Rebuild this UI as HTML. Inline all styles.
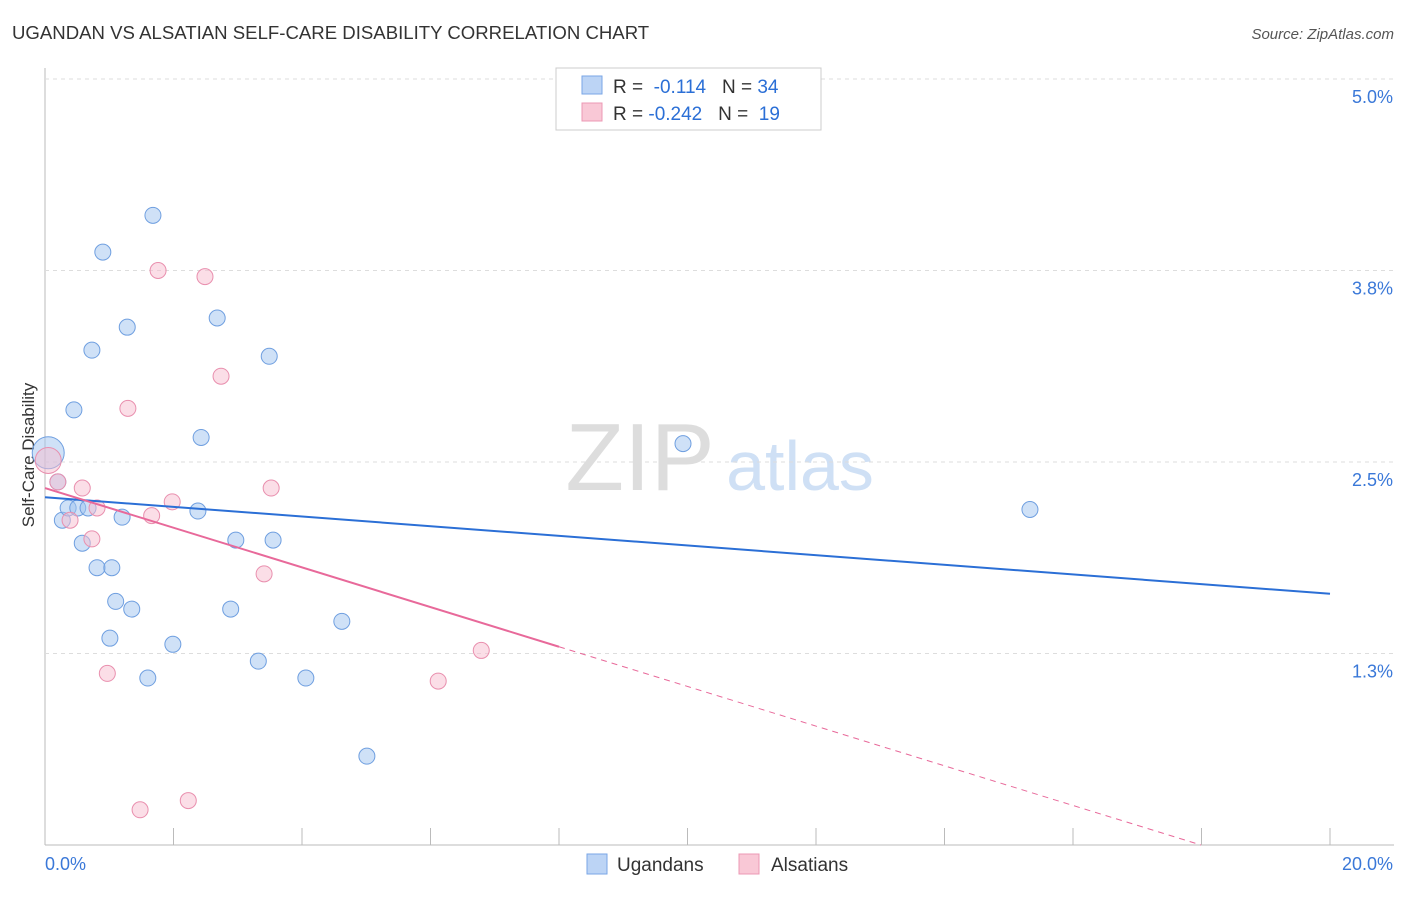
<!DOCTYPE html>
<html><head><meta charset="utf-8"><style>
body{margin:0;background:#fff;font-family:"Liberation Sans",sans-serif}
svg text{font-family:"Liberation Sans",sans-serif}
</style></head><body>
<svg id="chart" width="1406" height="892">
<text x="12" y="39" font-size="18.6" fill="#333">UGANDAN VS ALSATIAN SELF-CARE DISABILITY CORRELATION CHART</text>
<text x="1394" y="39" font-size="15" fill="#555" font-style="italic" text-anchor="end">Source: ZipAtlas.com</text>
<text x="640" y="490" font-size="96" fill="#ddd" font-family="Liberation Serif" text-anchor="middle">ZIP</text>
<text x="800" y="490" font-size="70" fill="#cfe0f5" text-anchor="middle">atlas</text>
<text transform="translate(34,455) rotate(-90)" font-size="17" fill="#333" text-anchor="middle">Self-Care Disability</text>
<g id="axes"></g><g id="marks"></g>
<g>
<rect x="556" y="68" width="265" height="62" fill="#fff" stroke="#ccc"/>
<rect x="582" y="76" width="20" height="18" fill="#bcd4f5" stroke="#7aa6e6"/>
<rect x="582" y="103" width="20" height="18" fill="#f9c8d6" stroke="#ec98b4"/>
<text x="613" y="93" font-size="19" fill="#333">R = <tspan fill="#2b6fd6">&#160;-0.114</tspan>&#160;&#160;&#160;N = <tspan fill="#2b6fd6">34</tspan></text>
<text x="613" y="120" font-size="19" fill="#333">R = <tspan fill="#2b6fd6">-0.242</tspan>&#160;&#160;&#160;N = <tspan fill="#2b6fd6">&#160;19</tspan></text>
</g>
<g>
<rect x="587" y="854" width="20" height="20" fill="#bcd4f5" stroke="#7aa6e6"/>
<text x="617" y="871" font-size="19" fill="#333">Ugandans</text>
<rect x="739" y="854" width="20" height="20" fill="#f9c8d6" stroke="#ec98b4"/>
<text x="771" y="871" font-size="19" fill="#333">Alsatians</text>
</g>
</svg>
<script>
const yTicks=[1.25,2.5,3.75,5.0];
const yTickLabels=["1.3%","2.5%","3.8%","5.0%"];
const xTickLabels=["0.0%","20.0%"];
const ugX=[0.05,0.2,0.27,0.36,0.51,0.67,0.45,0.58,0.73,0.81,0.9,1.04,1.01,1.1,1.2,1.28,1.35,1.6,1.68,1.99,2.38,2.43,2.68,2.89,2.97,3.32,3.49,3.55,4.06,4.62,5.01,9.93,15.33];
const ugY=[2.56,2.37,2.12,2.2,2.2,2.2,2.84,1.97,3.23,1.81,3.87,1.81,1.35,1.59,2.14,3.38,1.54,1.09,4.11,1.31,2.18,2.66,3.44,1.54,1.99,1.2,3.19,1.99,1.09,1.46,0.58,2.62,2.19];
const alX=[0.05,0.2,0.39,0.58,0.73,0.81,0.97,1.29,1.48,1.76,1.98,2.23,2.49,2.74,1.66,3.41,3.52,6.12,6.79];
const alY=[2.51,2.37,2.12,2.33,1.998,2.2,1.12,2.85,0.23,3.75,2.24,0.29,3.71,3.06,2.15,1.77,2.33,1.07,1.27];
const ugTrend=[2.27,1.64];
const alTrend=[2.33,-0.26];
const alSolidEnd=8;
const X=v=>45+v*64.25, Y=v=>845-v*153.2;
const ns="http://www.w3.org/2000/svg";
const ax=document.getElementById('axes'), mk=document.getElementById('marks');
function el(p,t,a){const e=document.createElementNS(ns,t);for(const k in a)e.setAttribute(k,a[k]);p.appendChild(e);return e;}
let l=el(ax,'line',{x1:45,y1:68,x2:45,y2:845,stroke:'#bbb'});


l=el(ax,'line',{x1:45,y1:845,x2:1394,y2:845,stroke:'#bbb'});


for(let i=0;i<=10;i++){const t=el(ax,'line',{x1:X(i*2),y1:828,x2:X(i*2),y2:845,stroke:'#bbb'});

}
yTicks.forEach((v,i)=>{const g=el(ax,'line',{x1:45,y1:Y(v),x2:1394,y2:Y(v),stroke:'#ddd','stroke-dasharray':'4,4'});


const t=el(ax,'text',{x:1393,y:Y(v)+24,'font-size':18,fill:'#3a78d8','text-anchor':'end'});t.textContent=yTickLabels[i];

});
[[0,'start',45],[20,'end',1393]].forEach((a,i)=>{const t=el(ax,'text',{x:a[2],y:870,'font-size':18,fill:'#3a78d8','text-anchor':a[1]});t.textContent=xTickLabels[i];

});
ugX.forEach((x,i)=>{const c=el(mk,'circle',{cx:X(x),cy:Y(ugY[i]),r:i==0?16:8,fill:'rgba(160,195,240,0.5)',stroke:'#6f9fe0','stroke-width':1});

});
alX.forEach((x,i)=>{const c=el(mk,'circle',{cx:X(x),cy:Y(alY[i]),r:i==0?13:8,fill:'rgba(248,190,208,0.5)',stroke:'#e98fae','stroke-width':1});

});
const al=x=>alTrend[0]+(alTrend[1]-alTrend[0])*x/20;
l=el(mk,'line',{x1:X(0),y1:Y(ugTrend[0]),x2:X(20),y2:Y(ugTrend[1]),stroke:'#2b6fd6','stroke-width':2});


l=el(mk,'line',{x1:X(0),y1:Y(al(0)),x2:X(alSolidEnd),y2:Y(al(alSolidEnd)),stroke:'#e8699a','stroke-width':2});


const xe=20*(alTrend[0])/(alTrend[0]-alTrend[1]);
l=el(mk,'line',{x1:X(alSolidEnd),y1:Y(al(alSolidEnd)),x2:X(xe),y2:Y(0),stroke:'#e8699a','stroke-width':1,'stroke-dasharray':'6,5'});


</script>
</body></html>
